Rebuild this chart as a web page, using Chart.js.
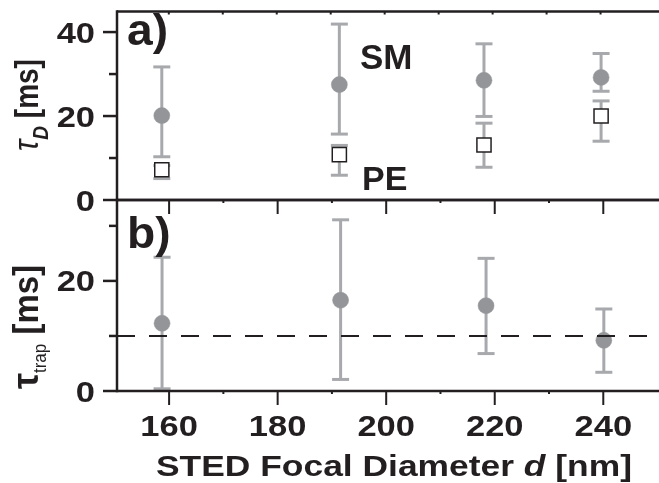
<!DOCTYPE html>
<html>
<head>
<meta charset="utf-8">
<script src="https://cdn.jsdelivr.net/npm/chart.js@4.4.0/dist/chart.umd.min.js"></script>
<style>
  html, body { margin: 0; padding: 0; background: #fff; overflow: hidden; }
  #wrap { position: relative; width: 659px; height: 483px; }
  canvas { position: absolute; left: 0; }
  #top-chart { top: 0; }
  #bottom-chart { top: 190px; }
</style>
</head>
<body>
<div id="wrap">
  <canvas id="top-chart" width="659" height="215"></canvas>
  <canvas id="bottom-chart" width="659" height="293"></canvas>
</div>
<script>
// STED focal diameter (nm)
const diameters = [158.7, 191.6, 218.4, 240.1];

// a) tau_D, SM (filled circles)
const smMean = [20.1, 27.5, 28.5, 29.2];
const smLow  = [10.3, 15.7, 19.9, 25.9];
const smHigh = [31.7, 41.9, 37.2, 34.9];

// a) tau_D, PE (open squares)
const peMean = [7.2, 10.8, 13.1, 20.0];
const peLow  = [5.1, 5.9, 7.8, 14.0];
const peHigh = [8.2, 13.0, 18.3, 23.6];

// b) tau_trap
const trapMean = [12.3, 16.5, 15.5, 9.2];
const trapLow  = [0.4, 2.1, 6.8, 3.4];
const trapHigh = [24.3, 31.1, 24.1, 14.9];
const trapLevel = 10;

// axes
const xMin = 150.4, xMax = 248.7;
const xTicks = [160, 180, 200, 220, 240];
const xMinor = [170, 190, 210, 230];
const topMax = 44.9, bottomMax = 34.7;
const topTicks = [0, 20, 40];
const bottomTicks = [0, 20];
const yMinor = [10, 30];

const INK = '#231f20';
const DOT = '#939598';
const BAR = '#a7a9ac';
const FONT = '"Liberation Sans", Arial, sans-serif';

function drawRuns(ctx, runs, sx) {
    // runs drawn one after another, centred on 0, baseline 0
    let total = 0;
    runs.forEach(r => { ctx.font = r.font; r.w = ctx.measureText(r.text).width; total += r.w; });
    let x = -total / 2;
    runs.forEach(r => {
        ctx.font = r.font;
        ctx.textAlign = 'left';
        ctx.fillText(r.text, x, r.dy || 0);
        x += r.w;
    });
}

function label(ctx, text, x, y, size, align, sx, style) {
    ctx.save();
    ctx.translate(x, y);
    ctx.scale(sx, 1);
    ctx.font = (style || 'bold') + ' ' + size + 'px ' + FONT;
    ctx.textAlign = align;
    ctx.textBaseline = 'alphabetic';
    ctx.fillStyle = INK;
    ctx.fillText(text, 0, 0);
    ctx.restore();
}

function line(ctx, x1, y1, x2, y2) {
    ctx.beginPath();
    ctx.moveTo(x1, y1);
    ctx.lineTo(x2, y2);
    ctx.stroke();
}

// error bars under the markers
const errorBars = {
    id: 'errorBars',
    beforeDatasetsDraw(chart) {
        const ctx = chart.ctx;
        const xs = chart.scales.x, ys = chart.scales.y;
        ctx.save();
        ctx.strokeStyle = BAR;
        ctx.lineWidth = 3;
        chart.data.datasets.forEach(ds => {
            if (!ds.errLow) return;
            ds.data.forEach((p, i) => {
                const x = xs.getPixelForValue(p.x);
                const lo = ys.getPixelForValue(ds.errLow[i]);
                const hi = ys.getPixelForValue(ds.errHigh[i]);
                line(ctx, x, lo, x, hi);
                line(ctx, x - 8.5, lo, x + 8.5, lo);
                line(ctx, x - 8.5, hi, x + 8.5, hi);
            });
        });
        ctx.restore();
    }
};

// frame, tick marks and all text
const frame = {
    id: 'frame',
    afterDraw(chart, args, opts) {
        const ctx = chart.ctx;
        const a = chart.chartArea;
        const xs = chart.scales.x, ys = chart.scales.y;
        const W = chart.width;
        ctx.save();
        ctx.strokeStyle = INK;
        ctx.fillStyle = INK;
        ctx.lineWidth = 2.5;
        ctx.lineCap = 'butt';
        line(ctx, a.left, a.top - 1.25, a.left, a.bottom + 1.25);
        line(ctx, a.left, a.top, W, a.top);
        line(ctx, a.left, a.bottom, W, a.bottom);

        opts.yTicks.forEach(v => {
            const y = ys.getPixelForValue(v);
            line(ctx, a.left - 14, y, a.left, y);
            label(ctx, String(v), a.left - 22, y + 10.5, 30, 'right', 1.15);
        });
        yMinor.forEach(v => {
            const y = ys.getPixelForValue(v);
            line(ctx, a.left - 8, y, a.left, y);
        });

        ctx.lineWidth = 2;
        xTicks.forEach(v => {
            const x = xs.getPixelForValue(v);
            line(ctx, x, a.top, x, a.top + opts.topTick);
            if (opts.bottomAxis) {
                line(ctx, x, a.bottom, x, a.bottom + 14);
                label(ctx, String(v), x, a.bottom + 45, 30, 'center', 1.15);
            }
        });
        xMinor.forEach(v => {
            const x = xs.getPixelForValue(v);
            line(ctx, x, a.top, x, a.top + 3);
            if (opts.bottomAxis) line(ctx, x, a.bottom, x, a.bottom + 3);
        });

        if (opts.bottomAxis) {
            ctx.save();
            ctx.translate((a.left + W) / 2 + 6, a.bottom + 85);
            ctx.scale(1.18, 1);
            drawRuns(ctx, [
                { text: 'STED Focal Diameter ', font: 'bold 30px ' + FONT },
                { text: 'd', font: 'italic bold 30px ' + FONT },
                { text: ' [nm]', font: 'bold 30px ' + FONT }
            ]);
            ctx.restore();
        }

        // rotated y title
        const t = opts.yTitle;
        ctx.save();
        ctx.translate(t.x, t.y);
        ctx.scale(t.sx, 1);
        ctx.rotate(-Math.PI / 2);
        drawRuns(ctx, t.runs);
        ctx.restore();

        opts.notes.forEach(n => label(ctx, n.text, n.x, n.y, n.size, 'left', n.sx));
        ctx.restore();
    }
};

const common = {
    responsive: false,
    animation: false,
    events: [],
    plugins: { legend: { display: false }, tooltip: { enabled: false } }
};

new Chart(document.getElementById('top-chart'), {
    type: 'scatter',
    data: {
        datasets: [
            {
                label: 'PE',
                data: diameters.map((x, i) => ({ x, y: peMean[i] })),
                pointStyle: 'rect',
                pointRadius: 10,
                pointBackgroundColor: '#fff',
                pointBorderColor: INK,
                pointBorderWidth: 1.5,
                errLow: peLow,
                errHigh: peHigh
            },
            {
                label: 'SM',
                data: diameters.map((x, i) => ({ x, y: smMean[i] })),
                pointRadius: 8,
                pointBackgroundColor: DOT,
                pointBorderColor: DOT,
                pointBorderWidth: 0.5,
                errLow: smLow,
                errHigh: smHigh
            }
        ]
    },
    options: {
        ...common,
        layout: { padding: { left: 117, top: 8, right: 0, bottom: 15 } },
        scales: {
            x: { type: 'linear', min: xMin, max: xMax, display: false },
            y: { min: 0, max: topMax, display: false }
        },
        plugins: {
            ...common.plugins,
            frame: {
                yTicks: topTicks,
                topTick: 3,
                bottomAxis: false,
                yTitle: {
                    x: 37.5, y: 105, sx: 1.2,
                    runs: [
                        { text: 'τ', font: 'italic 30px ' + FONT },
                        { text: 'D', font: 'italic bold 19px ' + FONT, dy: 9 },
                        { text: ' [ms]', font: 'bold 28px ' + FONT }
                    ]
                },
                notes: [
                    { text: 'a)', x: 127, y: 45, size: 44, sx: 1.05 },
                    { text: 'SM', x: 360, y: 69, size: 35, sx: 1.0 },
                    { text: 'PE', x: 362, y: 190, size: 34, sx: 1.0 }
                ]
            }
        }
    },
    plugins: [errorBars, frame]
});

new Chart(document.getElementById('bottom-chart'), {
    type: 'scatter',
    data: {
        datasets: [
            {
                type: 'line',
                label: 'level',
                data: [{ x: xMin, y: trapLevel }, { x: xMax, y: trapLevel }],
                borderColor: INK,
                borderWidth: 2,
                borderDash: [18, 14],
                pointRadius: 0
            },
            {
                label: 'trap',
                data: diameters.map((x, i) => ({ x, y: trapMean[i] })),
                pointRadius: 8,
                pointBackgroundColor: DOT,
                pointBorderColor: DOT,
                pointBorderWidth: 0.5,
                errLow: trapLow,
                errHigh: trapHigh
            }
        ]
    },
    options: {
        ...common,
        layout: { padding: { left: 117, top: 10, right: 0, bottom: 92 } },
        scales: {
            x: { type: 'linear', min: xMin, max: xMax, display: false },
            y: { min: 0, max: bottomMax, display: false }
        },
        plugins: {
            ...common.plugins,
            frame: {
                yTicks: bottomTicks,
                topTick: 14,
                bottomAxis: true,
                yTitle: {
                    x: 37.7, y: 137, sx: 1.05,
                    runs: [
                        { text: 'τ', font: 'bold 36px ' + FONT },
                        { text: 'trap', font: '17px ' + FONT, dy: 8 },
                        { text: ' [ms]', font: 'bold 33px ' + FONT }
                    ]
                },
                notes: [
                    { text: 'b)', x: 127, y: 58, size: 44, sx: 1.05 }
                ]
            }
        }
    },
    plugins: [errorBars, frame]
});
</script>
</body>
</html>
